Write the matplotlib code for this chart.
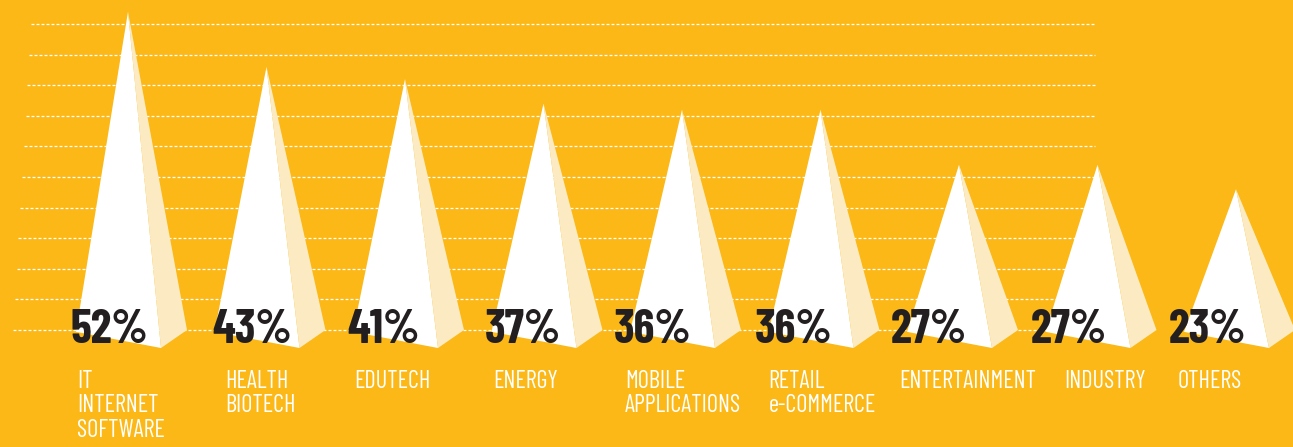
import matplotlib
matplotlib.use("Agg")
import matplotlib.pyplot as plt
from matplotlib.patches import Polygon

categories = ["IT\nINTERNET\nSOFTWARE", "HEALTH\nBIOTECH", "EDUTECH", "ENERGY",
              "MOBILE\nAPPLICATIONS", "RETAIL\ne-COMMERCE", "ENTERTAINMENT",
              "INDUSTRY", "OTHERS"]
values = [52, 43, 41, 37, 36, 36, 27, 27, 23]
value_labels = ["52%", "43%", "41%", "37%", "36%", "36%", "27%", "27%", "23%"]
grid_values = [0, 5, 10, 15, 20, 25, 30, 35, 40, 45, 50]

# layout (pixel offsets for text relative to pyramid centre)
pct_dx = [-58, -54, -58, -59, -68, -66, -68, -67, -67]
cat_dx = [-51, -41, -51, -50, -57, -52, -60, -33, -58]

BG = "#FBB817"
SIDE = "#FCEBC2"
DARK = "#231F20"

W, H = 1293, 447
fig = plt.figure(figsize=(W / 100, H / 100), dpi=100, facecolor=BG)
ax = fig.add_axes([0, 0, 1, 1])
ax.set_facecolor(BG)

px_x = 138.5   # pixels per category
px_y = 6.12    # pixels per percent
x0_px, base_px = 128, 330
ax.set_xlim(-x0_px / px_x, (W - x0_px) / px_x)
ax.set_ylim(-(H - base_px) / px_y, base_px / px_y)
ax.axis("off")

# dashed grid lines (staggered left start)
for g in grid_values:
    xs = (13 + 18 * g / 50 - x0_px) / px_x
    xe = (1095 - x0_px) / px_x
    ax.plot([xs, xe], [g, g], color="white", lw=0.9,
            linestyle=(0, (2.4, 1.6)), zorder=1)

# pyramids
dl, db, dr = -52 / px_x, 33 / px_x, 59 / px_x
yl, yb = -0.3, -18 / px_y
for i, v in enumerate(values):
    apex = (i, v)
    front = Polygon([apex, (i + dl, yl), (i + db, yb)], closed=True,
                    facecolor="white", edgecolor="none", zorder=2)
    side = Polygon([apex, (i + db, yb), (i + dr, 0)], closed=True,
                   facecolor=SIDE, edgecolor="none", zorder=2)
    ax.add_patch(front)
    ax.add_patch(side)

fam = ["Barlow Condensed", "DejaVu Sans"]
for i, (lab, cat) in enumerate(zip(value_labels, categories)):
    ax.text(i + pct_dx[i] / px_x, -13 / px_y, lab, ha="left", va="baseline",
            fontsize=34, fontweight="bold", color=DARK, family=fam, zorder=3)
    ax.text(i + cat_dx[i] / px_x, -(370 - base_px) / px_y, cat, ha="left",
            va="top", fontsize=17.5, color="white", family=fam,
            linespacing=1.08, zorder=3)

fig.savefig("out.png", dpi=100, facecolor=BG)
